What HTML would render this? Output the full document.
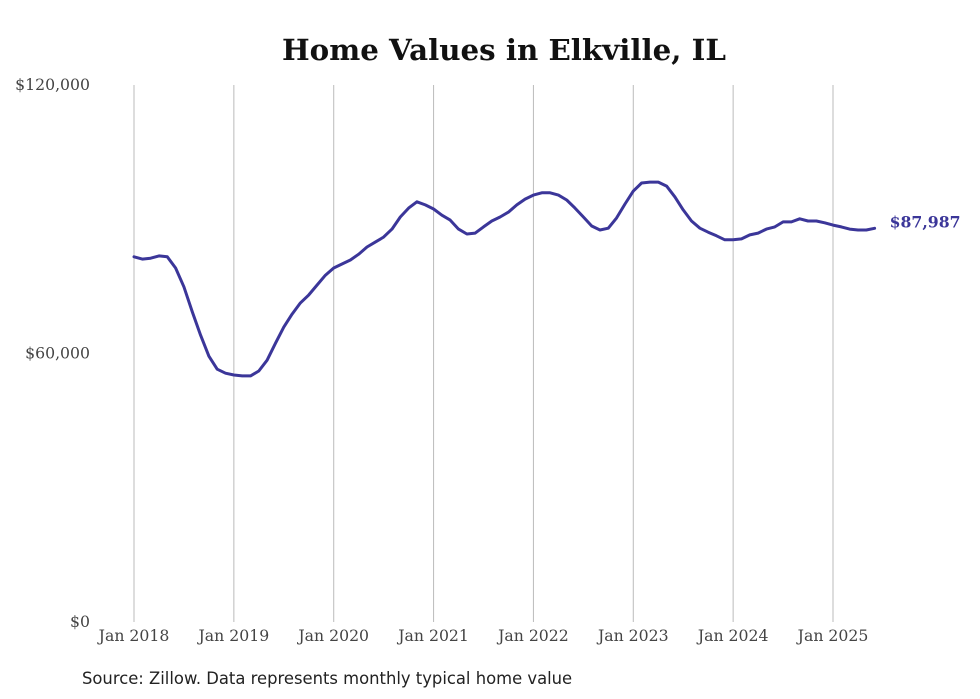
<!DOCTYPE html>
<html><head><meta charset="utf-8"><style>
body{margin:0;background:#fff;width:980px;height:699px;overflow:hidden}
svg{display:block}
</style></head><body>
<svg id="chart" width="980" height="699">
<text x="504" y="60" text-anchor="middle" font-family="'DejaVu Serif','Liberation Serif',serif" font-weight="bold" font-size="29.3" fill="#111">Home Values in Elkville, IL</text>
<g id="grid"></g><g id="yaxis"></g><g id="xaxis"></g><g id="series"></g>
<text x="82" y="684" font-family="'DejaVu Sans','Liberation Sans',sans-serif" font-size="16.4" fill="#222">Source: Zillow. Data represents monthly typical home value</text>
</svg>
<script>
const values=[81.6,81.1,81.3,81.8,81.6,79.1,74.9,69.3,64.1,59.4,56.5,55.6,
55.2,55.0,55.0,56.1,58.5,62.3,65.9,68.8,71.3,73.1,75.3,77.5,
79.1,80.0,80.9,82.2,83.8,84.9,86.0,87.8,90.5,92.5,93.9,93.2,
92.3,90.9,89.8,87.8,86.7,86.9,88.3,89.6,90.5,91.6,93.2,94.5,
95.4,95.9,95.9,95.4,94.3,92.5,90.5,88.5,87.6,88.0,90.3,93.4,
96.3,98.1,98.3,98.3,97.4,95.0,92.1,89.6,88.0,87.1,86.3,85.4,
85.4,85.6,86.5,86.9,87.8,88.3,89.4,89.4,90.1,89.6,89.6,89.2,
88.7,88.3,87.8,87.6,87.6,87.987];
const yTicks=[0,60000,120000];
const yTickLabels=["$0","$60,000","$120,000"];
const xTickLabels=["Jan 2018","Jan 2019","Jan 2020","Jan 2021","Jan 2022","Jan 2023","Jan 2024","Jan 2025"];
const lastLabel="$87,987";
const NS="http://www.w3.org/2000/svg";
const x=m=>134+m*(699/84);
const y=v=>622-v/120000*537;
function mk(tag,attrs,parent){const e=document.createElementNS(NS,tag);for(const k in attrs)e.setAttribute(k,attrs[k]);parent.appendChild(e);return e;}
const grid=document.getElementById('grid'),ya=document.getElementById('yaxis'),xa=document.getElementById('xaxis'),se=document.getElementById('series');
xTickLabels.forEach((l,i)=>{
 const gx=x(i*12);
 const ln=mk('line',{x1:gx,x2:gx,y1:85,y2:622,stroke:'#bbb','stroke-width':1},grid);
 
 
 const t=mk('text',{x:gx,y:641,'text-anchor':'middle','font-family':"'DejaVu Serif','Liberation Serif',serif",'font-size':15.7,fill:'#444'},xa);
 t.textContent=l;
 
 
});
yTicks.forEach((v,i)=>{
 const t=mk('text',{x:90,y:y(v)+5,'text-anchor':'end','font-family':"'DejaVu Serif','Liberation Serif',serif",'font-size':15.7,fill:'#444'},ya);
 t.textContent=yTickLabels[i];
 
 
});
const pts=values.map((v,i)=>x(i).toFixed(1)+','+y(v*1000).toFixed(1)).join(' ');
const pl=mk('polyline',{points:pts,fill:'none',stroke:'#3b3699','stroke-width':3,'stroke-linejoin':'round','stroke-linecap':'round'},se);


const n=values.length-1;
const lt=mk('text',{x:x(n)+15,y:y(values[n]*1000)-1,'font-family':"'DejaVu Serif','Liberation Serif',serif",'font-size':15.7,'font-weight':'bold',fill:'#3b3699'},se);
lt.textContent=lastLabel;


</script>
</body></html>
